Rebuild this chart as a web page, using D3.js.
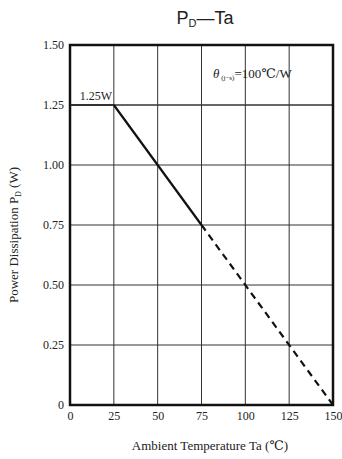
<!DOCTYPE html>
<html>
<head>
<meta charset="utf-8">
<script src="https://cdn.jsdelivr.net/npm/d3@7"></script>
<style>
  body { margin: 0; background: #fff; }
</style>
</head>
<body>
<div id="chart"></div>
<script>
const xTicks = [0, 25, 50, 75, 100, 125, 150];
const yTicks = [0, 0.25, 0.50, 0.75, 1.00, 1.25, 1.50];
const yTickLabels = ['0', '0.25', '0.50', '0.75', '1.00', '1.25', '1.50'];
const solidTemp = [0, 25, 75];
const solidPower = [1.25, 1.25, 0.75];
const dashTemp = [75, 150];
const dashPower = [0.75, 0];

const width = 342, height = 459;
const margin = { L: 70, R: 9, T: 45, B: 54 };

const svg = d3.select('#chart').append('svg')
  .attr('width', width).attr('height', height);

const x = d3.scaleLinear().domain([0, 150]).range([margin.L, width - margin.R]);
const y = d3.scaleLinear().domain([0, 1.5]).range([height - margin.B, margin.T]);

const serif = '"Liberation Serif", "DejaVu Serif", serif';

// grid
svg.append('g').selectAll('line.v')
  .data(xTicks.slice(1, -1)).enter().append('line')
  .attr('x1', d => x(d)).attr('x2', d => x(d))
  .attr('y1', y(0)).attr('y2', y(1.5))
  .attr('stroke', '#333').attr('stroke-width', 1);
svg.append('g').selectAll('line.h')
  .data(yTicks.slice(1, -1)).enter().append('line')
  .attr('x1', x(0)).attr('x2', x(150))
  .attr('y1', d => y(d)).attr('y2', d => y(d))
  .attr('stroke', '#333').attr('stroke-width', d => d === 1.25 ? 1.4 : 1);

// frame
svg.append('rect')
  .attr('x', x(0)).attr('y', y(1.5))
  .attr('width', x(150) - x(0)).attr('height', y(0) - y(1.5))
  .attr('fill', 'none').attr('stroke', '#111').attr('stroke-width', 2.5);

// curve
const line = d3.line().x(d => x(d[0])).y(d => y(d[1]));
const solid = d3.zip(solidTemp, solidPower);
svg.append('path')
  .datum(solid.slice(0, 2))
  .attr('d', line).attr('fill', 'none')
  .attr('stroke', '#222').attr('stroke-width', 1.5);
svg.append('path')
  .datum(solid.slice(1))
  .attr('d', line).attr('fill', 'none')
  .attr('stroke', '#111').attr('stroke-width', 2.2);
svg.append('path')
  .datum(d3.zip(dashTemp, dashPower))
  .attr('d', line).attr('fill', 'none')
  .attr('stroke', '#111').attr('stroke-width', 2.2)
  .attr('stroke-dasharray', '7,5');

// axes (labels only)
const xAxis = d3.axisBottom(x).tickValues(xTicks).tickSize(0).tickPadding(6);
const gx = svg.append('g').attr('transform', `translate(0,${y(0)})`).call(xAxis);
gx.select('.domain').remove();
gx.selectAll('text').attr('font-family', serif).attr('font-size', 12).attr('fill', '#222');

const yAxis = d3.axisLeft(y).tickValues(yTicks).tickSize(0).tickPadding(6)
  .tickFormat((d, i) => yTickLabels[i]);
const gy = svg.append('g').attr('transform', `translate(${x(0)},0)`).call(yAxis);
gy.select('.domain').remove();
gy.selectAll('text').attr('font-family', serif).attr('font-size', 12).attr('fill', '#222');

// title
const title = svg.append('text')
  .attr('x', 205).attr('y', 24)
  .attr('text-anchor', 'middle')
  .attr('font-family', '"Liberation Sans", Arial, sans-serif')
  .attr('font-size', 18).attr('fill', '#222');
title.append('tspan').text('P');
title.append('tspan').text('D').attr('font-size', 11).attr('dy', 3);
title.append('tspan').text('—Ta').attr('dy', -3);

// axis titles
svg.append('text')
  .attr('x', 210).attr('y', 450)
  .attr('text-anchor', 'middle')
  .attr('font-family', serif).attr('font-size', 13).attr('fill', '#222')
  .text('Ambient Temperature Ta (℃)');

const yl = svg.append('text')
  .attr('transform', 'translate(18,235) rotate(-90)')
  .attr('text-anchor', 'middle')
  .attr('font-family', serif).attr('font-size', 13).attr('fill', '#222');
yl.append('tspan').text('Power Dissipation P');
yl.append('tspan').text('D').attr('font-size', 8).attr('dy', 3);
yl.append('tspan').text(' (W)').attr('dy', -3);

// annotations
svg.append('text')
  .attr('x', x(5.5)).attr('y', y(1.25) - 5)
  .attr('font-family', serif).attr('font-size', 12).attr('fill', '#222')
  .text('1.25W');

const th = svg.append('text')
  .attr('x', 213).attr('y', 78)
  .attr('font-family', serif).attr('font-size', 13).attr('fill', '#222');
th.append('tspan').text('θ').attr('font-style', 'italic');
th.append('tspan').text(' (j−s)').attr('font-size', 7).attr('dy', 2);
th.append('tspan').text('=100℃/W').attr('dy', -2);
</script>
</body>
</html>
